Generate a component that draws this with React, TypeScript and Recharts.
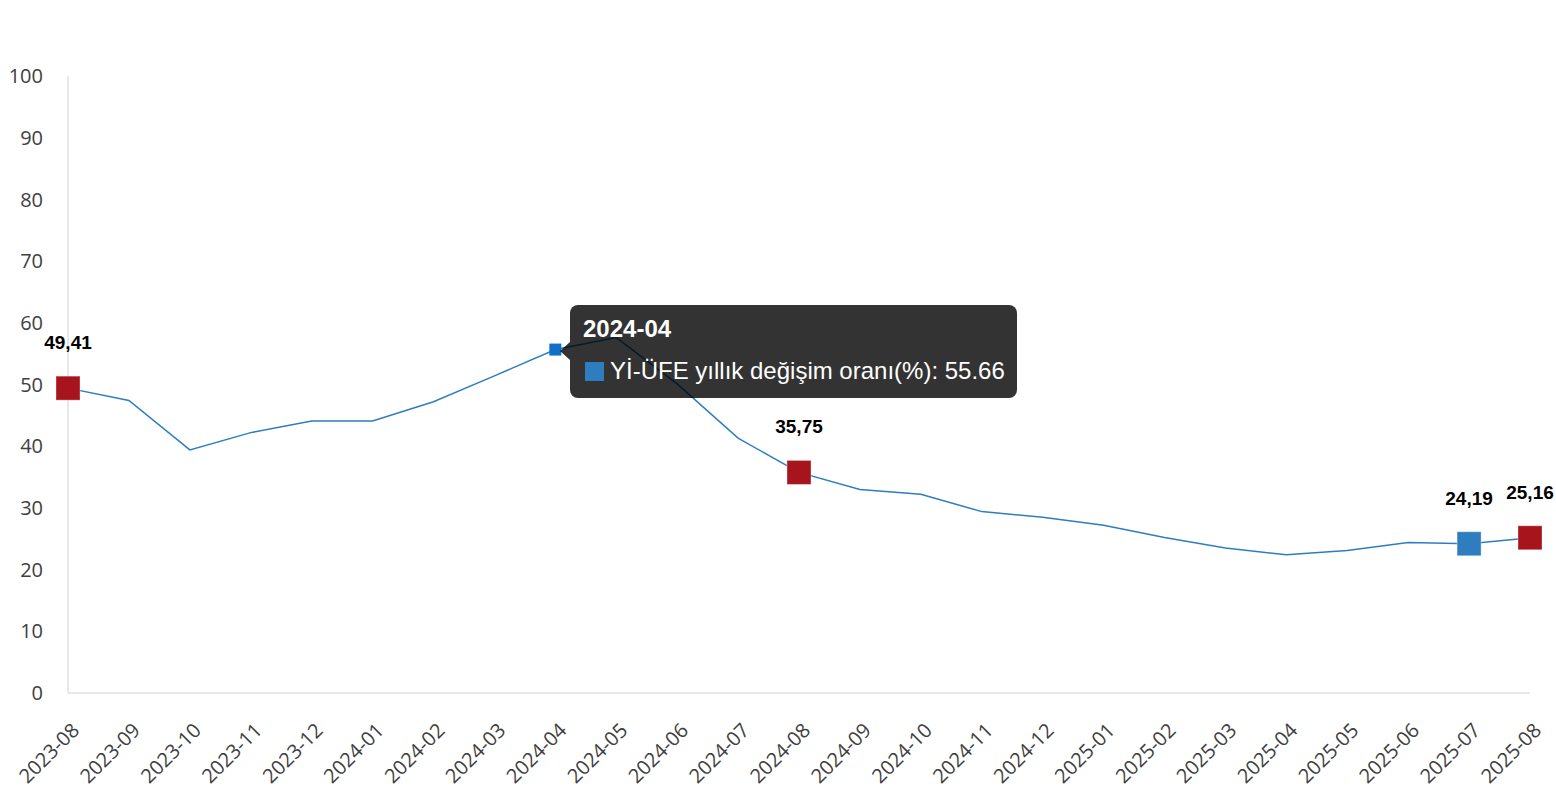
import React from "react";
import { LineChart, Line, XAxis, YAxis, Tooltip, LabelList } from "recharts";

const months = [
  "2023-08", "2023-09", "2023-10", "2023-11", "2023-12",
  "2024-01", "2024-02", "2024-03", "2024-04", "2024-05", "2024-06",
  "2024-07", "2024-08", "2024-09", "2024-10", "2024-11", "2024-12",
  "2025-01", "2025-02", "2025-03", "2025-04", "2025-05", "2025-06",
  "2025-07", "2025-08",
];

const yiUfe = [
  49.41, 47.4, 39.4, 42.2, 44.1,
  44.1, 47.2, 51.4, 55.66, 57.6, 50.1,
  41.3, 35.75, 33.0, 32.2, 29.4, 28.5,
  27.2, 25.2, 23.5, 22.4, 23.1, 24.4,
  24.19, 25.16,
];

const yTicks = [0, 10, 20, 30, 40, 50, 60, 70, 80, 90, 100];

// points marked with a big square + value label
const redPoints = [0, 12, 24];
const bluePoints = [23];
const activeIndex = 8;

const SERIES = "Yİ-ÜFE yıllık değişim oranı(%)";

const COLORS = {
  line: "#2e7dbf",
  red: "#a8141c",
  blue: "#2e7dbf",
  active: "#1070c8",
  axis: "#e0e0e0",
  tick: "#404040",
};

const data = months.map((m, i) => ({ month: m, value: yiUfe[i] }));

function SquareDot(props: any) {
  const { cx, cy, index } = props;
  let fill = "";
  if (redPoints.includes(index)) fill = COLORS.red;
  if (bluePoints.includes(index)) fill = COLORS.blue;
  if (!fill || cx == null || cy == null) return <g key={`d-${index}`} />;
  const s = 24;
  return (
    <rect
      key={`d-${index}`}
      x={cx - s / 2}
      y={cy - s / 2}
      width={s}
      height={s}
      fill={fill}
      stroke="#ffffff"
      strokeOpacity={0.35}
      strokeWidth={1}
    />
  );
}

function ActiveSquare(props: any) {
  const { cx, cy } = props;
  if (cx == null || cy == null) return <g />;
  const s = 12;
  return <rect x={cx - s / 2} y={cy - s / 2} width={s} height={s} fill={COLORS.active} />;
}

function ValueLabel(props: any) {
  const { x, y, value, index } = props;
  if (!redPoints.includes(index) && !bluePoints.includes(index)) return null;
  return (
    <text
      x={x}
      y={y - 39}
      textAnchor="middle"
      fontFamily="Liberation Sans, Arial, sans-serif"
      fontWeight="bold"
      fontSize={19}
      fill="#000"
    >
      {Number(value).toFixed(2).replace(".", ",")}
    </text>
  );
}

function MonthTick(props: any) {
  const { x, y, payload } = props;
  return (
    <g transform={`translate(${x + 9},${y + 27})`}>
      <text
        textAnchor="end"
        transform="rotate(-45)"
        fontFamily="Open Sans, Noto Sans, sans-serif"
        fontSize={20}
        fill={COLORS.tick}
        dy={5}
      >
        {payload.value}
      </text>
    </g>
  );
}

function TipBox({ active, payload, label }: any) {
  if (!active || !payload?.length) return null;
  return (
    <div
      style={{
        position: "relative",
        background: "rgba(0,0,0,0.8)",
        borderRadius: 8,
        padding: "10px 12px 13px 13px",
        color: "#fff",
        fontFamily: "Liberation Sans, Arial, sans-serif",
        whiteSpace: "nowrap",
      }}
    >
      <div
        style={{
          position: "absolute",
          left: -10,
          top: 37,
          width: 0,
          height: 0,
          borderTop: "9px solid transparent",
          borderBottom: "9px solid transparent",
          borderRight: "10px solid rgba(0,0,0,0.8)",
        }}
      />
      <div style={{ fontWeight: "bold", fontSize: 24, lineHeight: "28px" }}>{label}</div>
      <div style={{ display: "flex", alignItems: "center", fontSize: 24, lineHeight: "28px", marginTop: 14 }}>
        <span
          style={{
            display: "inline-block",
            width: 19,
            height: 19,
            background: COLORS.blue,
            marginRight: 6,
            marginLeft: 2,
          }}
        />
        {payload[0].name}: {payload[0].value}
      </div>
    </div>
  );
}

export default function App() {
  return (
    <div style={{ position: "absolute", left: 0, top: 0, width: 1556, height: 800, background: "#fff" }}>
      <LineChart
        width={1556}
        height={800}
        data={data}
        margin={{ top: 76, right: 26, left: 0, bottom: 0 }}
      >
        <XAxis
          dataKey="month"
          interval={0}
          height={107}
          tick={<MonthTick />}
          tickLine={false}
          axisLine={{ stroke: COLORS.axis, strokeWidth: 1.5 }}
        />
        <YAxis
          domain={[0, 100]}
          ticks={yTicks}
          width={68}
          tickLine={false}
          tickMargin={19}
          axisLine={{ stroke: COLORS.axis, strokeWidth: 1.5 }}
          tick={{ fill: COLORS.tick, fontSize: 20, fontFamily: "Open Sans, Noto Sans, sans-serif" }}
        />
        <Tooltip
          content={<TipBox />}
          active
          defaultIndex={activeIndex}
          cursor={false}
          isAnimationActive={false}
          position={{ x: 570, y: 305 }}
          wrapperStyle={{ outline: "none" }}
        />
        <Line
          type="linear"
          dataKey="value"
          name={SERIES}
          stroke={COLORS.line}
          strokeWidth={1.5}
          dot={(p: any) => <SquareDot {...p} key={`d-${p.index}`} />}
          activeDot={<ActiveSquare />}
          isAnimationActive={false}
        >
          <LabelList dataKey="value" content={<ValueLabel />} />
        </Line>
      </LineChart>
    </div>
  );
}
